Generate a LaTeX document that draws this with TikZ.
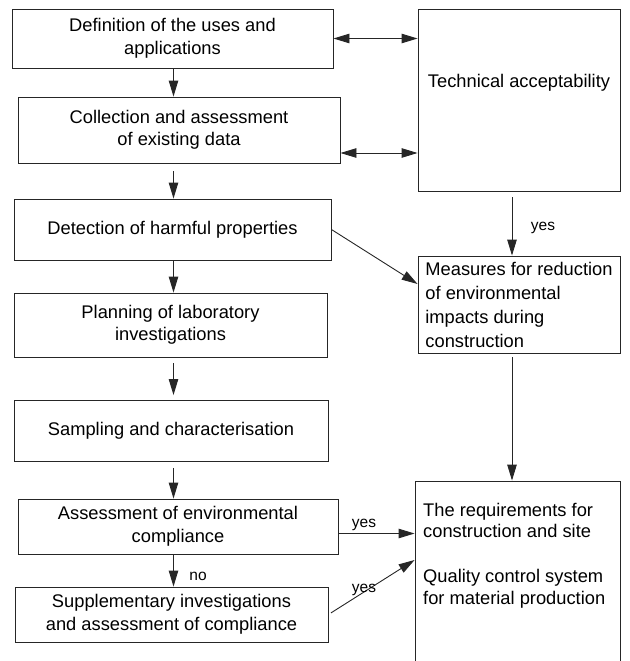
\documentclass[tikz,border=0pt]{standalone}
\usepackage{fontspec}
\setmainfont{Liberation Sans}
\usetikzlibrary{arrows.meta}
\begin{document}
\begin{tikzpicture}[x=1pt,y=-1pt,
  boxline/.style={draw=black!85, line width=0.9pt},
  stepbox/.style={boxline, align=center, inner sep=0pt, font=\fontsize{18.3}{22.5}\selectfont},
  flow/.style={draw=black!85, line width=0.9pt, -{Triangle[length=16pt,width=9.5pt]}},
  both/.style={flow, {Triangle[length=16pt,width=9.5pt]}-{Triangle[length=16pt,width=9.5pt]}},
  tag/.style={font=\fontsize{15.5}{18}\selectfont, inner sep=0pt},
  body/.style={font=\fontsize{18.3}{21.5}\selectfont, align=left, inner sep=0pt, anchor=north west}]
\useasboundingbox (0,0) rectangle (629,661);

% left column of steps
\node[stepbox, minimum width=321pt, minimum height=59pt] (b1) at (172.5,38.5)
  {Definition of the uses and\\applications};
\node[stepbox, minimum width=322pt, minimum height=66pt] (b2) at (179,130)
  {Collection and assessment\\of existing data};
\node[stepbox, minimum width=317pt, minimum height=61pt] (b3) at (172.5,229.5)
  {Detection of harmful properties};
\node[stepbox, minimum width=313pt, minimum height=64pt] (b4) at (170.5,325)
  {Planning of laboratory\\investigations};
\node[stepbox, minimum width=314pt, minimum height=61pt] (b5) at (171,431)
  {Sampling and characterisation};
\node[stepbox, minimum width=320pt, minimum height=55pt] (b6) at (178,526.5)
  {Assessment of environmental\\compliance};
\node[stepbox, minimum width=313pt, minimum height=55pt] (b7) at (171.5,614.5)
  {Supplementary investigations\\and assessment of compliance};

% right column
\node[stepbox, minimum width=202pt, minimum height=182pt] (tech) at (519,100) {};
\node[font=\fontsize{18.3}{22.5}\selectfont, inner sep=0pt] (techt) at ([yshift=17pt]tech.center)
  {Technical acceptability};
\node[stepbox, align=left, minimum width=202pt, minimum height=97pt,
      font=\fontsize{18.3}{24}\selectfont] (meas) at (519,304.5)
  {Measures for reduction\\of environmental\\impacts during\\construction};
\node[stepbox, minimum width=205pt, minimum height=219pt] (req) at (517.5,590.5) {};
\node[body] (reqt) at (423,503)
  {The requirements for\\construction and site\\[23.5pt]Quality control system\\for material production};

% connectors
\coordinate (spine) at (173.5,0);
\coordinate (rspine) at (512,0);
\draw[flow] (b1.south -| spine) -- (b2.north -| spine);
\draw[flow, shorten <=8pt] (b2.south -| spine) -- (b3.north -| spine);
\draw[flow] (b3.south -| spine) -- (b4.north -| spine);
\draw[flow, shorten <=6pt, shorten >=5pt] (b4.south -| spine) -- (b5.north -| spine);
\draw[flow, shorten <=6pt] (b5.south -| spine) -- (b6.north -| spine);
\draw[flow] (b6.south -| spine) -- (b7.north -| spine);

\draw[flow, shorten <=6pt] (tech.south -| rspine) -- (meas.north -| rspine);
\draw[flow, shorten <=4pt] (meas.south -| rspine) -- (req.north -| rspine);

\draw[both] (b1.east) -- (b1.east -| tech.west);
\draw[both] ([yshift=-23pt]b2.east) -- ([yshift=-23pt]b2.east -| tech.west);

\draw[flow] (b3.east) -- ([yshift=20.5pt]meas.west);
\draw[flow] ([yshift=-7pt]b6.east) -- ([yshift=-7pt]b6.east -| req.west);
\draw[flow, shorten <=3pt] (b7.east) -- ([yshift=30.5pt]req.west);

% branch labels
\node[tag] (y1) at (543,228) {yes};
\node[tag] (y2) at (364,525) {yes};
\node[tag] (n1) at (198,576) {no};
\node[tag] (y3) at (364,590) {yes};
\end{tikzpicture}
\end{document}
